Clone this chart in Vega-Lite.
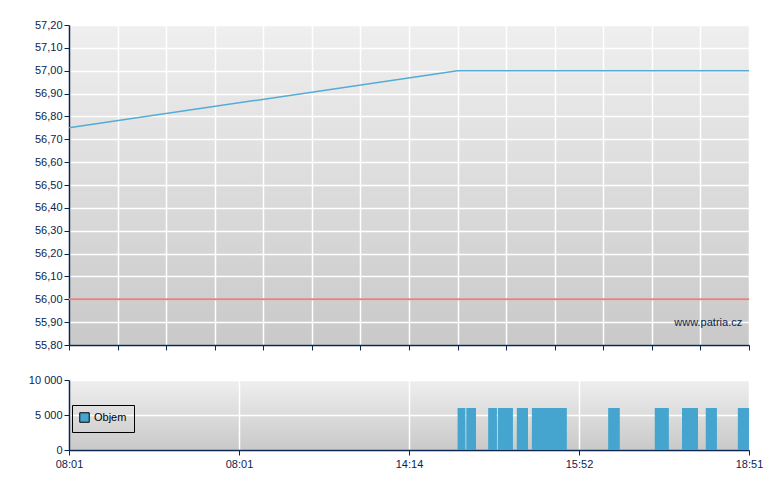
{
  "$schema": "https://vega.github.io/schema/vega-lite/v6.json",
  "background": "white",
  "padding": {"left": 28, "top": 19, "right": 30, "bottom": 10},
  "bounds": "flush",
  "spacing": 35,
  "config": {
    "font": "Liberation Sans",
    "view": {
      "stroke": null,
      "fill": {"gradient": "linear", "x1": 0, "y1": 0, "x2": 0, "y2": 1,
        "stops": [{"offset": 0, "color": "#efefef"}, {"offset": 1, "color": "#c9c9c9"}]}
    },
    "axis": {
      "domainColor": "#0b2550", "domainWidth": 1.5, "tickColor": "#0b2550", "tickSize": 5,
      "labelColor": "#0b2550", "labelFont": "Liberation Sans", "labelFontSize": 11,
      "labelOverlap": false,
      "gridColor": "#ffffff", "gridWidth": 1.5, "gridOpacity": 1, "title": null
    }
  },
  "datasets": {
    "price": [
      {"t": 0, "price": 56.75},
      {"t": 80, "price": 57.0},
      {"t": 140, "price": 57.0}
    ],
    "ref": [{"price": 56.0}],
    "wm": [{"t": 138.6, "price": 55.896, "label": "www.patria.cz"}],
    "vol": [
      {"start": 80.0, "end": 81.6, "vol": 6000, "series": "Objem"},
      {"start": 81.8, "end": 83.8, "vol": 6000, "series": "Objem"},
      {"start": 86.3, "end": 88.1, "vol": 6000, "series": "Objem"},
      {"start": 88.3, "end": 91.4, "vol": 6000, "series": "Objem"},
      {"start": 92.2, "end": 94.5, "vol": 6000, "series": "Objem"},
      {"start": 95.3, "end": 102.5, "vol": 6000, "series": "Objem"},
      {"start": 111.0, "end": 113.4, "vol": 6000, "series": "Objem"},
      {"start": 120.6, "end": 123.5, "vol": 6000, "series": "Objem"},
      {"start": 126.2, "end": 129.5, "vol": 6000, "series": "Objem"},
      {"start": 131.1, "end": 133.4, "vol": 6000, "series": "Objem"},
      {"start": 137.7, "end": 140.0, "vol": 6000, "series": "Objem"}
    ]
  },
  "vconcat": [
    {
      "width": 680,
      "height": 320,
      "encoding": {
        "x": {"field": "t", "type": "quantitative",
          "scale": {"domain": [0, 140], "nice": false, "zero": false},
          "axis": {"values": [0,10,20,30,40,50,60,70,80,90,100,110,120,130,140], "labels": false, "grid": true}},
        "y": {"field": "price", "type": "quantitative",
          "scale": {"domain": [55.8, 57.2], "nice": false, "zero": false},
          "axis": {"values": [55.8,55.9,56.0,56.1,56.2,56.3,56.4,56.5,56.6,56.7,56.8,56.9,57.0,57.1,57.2],
            "tickCount": 15, "labelOverlap": false, "labelFlush": false,
            "labelExpr": "replace(format(datum.value, '.2f'), '.', ',')", "grid": true}}
      },
      "layer": [
        {
          "data": {"name": "ref"},
          "mark": {"type": "rule", "color": "#e08585", "strokeWidth": 2},
          "encoding": {"x": null}
        },
        {
          "data": {"name": "price"},
          "mark": {"type": "line", "color": "#52acd4", "strokeWidth": 1.5}
        },
        {
          "data": {"name": "wm"},
          "mark": {"type": "text", "align": "right", "baseline": "middle", "fontSize": 11, "color": "#0b2550"},
          "encoding": {"text": {"field": "label"}}
        }
      ]
    },
    {
      "width": 680,
      "height": 70,
      "data": {"name": "vol"},
      "mark": {"type": "rect", "color": "#46a5cf"},
      "encoding": {
        "x": {"field": "start", "type": "quantitative",
          "scale": {"domain": [0, 140], "nice": false, "zero": false},
          "axis": {"values": [0, 35, 70, 105, 140], "grid": true, "labelPadding": 3, "labelOverlap": false, "labelFlush": false,
            "labelExpr": "['08:01','08:01','14:14','15:52','18:51'][round(datum.value/35)]"}},
        "x2": {"field": "end"},
        "y": {"field": "vol", "type": "quantitative",
          "scale": {"domain": [0, 10000], "nice": false},
          "axis": {"values": [0, 5000, 10000], "labelOverlap": false, "labelFlush": false, "labelExpr": "replace(format(datum.value, ','), ',', ' ')", "grid": true}},
        "y2": {"datum": 0},
        "color": {"field": "series", "type": "nominal",
          "scale": {"range": ["#46a5cf"]},
          "legend": {"title": null, "orient": "none", "legendX": 3, "legendY": 380,
            "strokeColor": "#000000", "padding": 7, "symbolType": "square", "symbolSize": 90,
            "symbolStrokeColor": "#000000", "symbolStrokeWidth": 1, "symbolOpacity": 1,
            "labelFontSize": 11, "labelColor": "#000000", "labelFont": "Liberation Sans"}}
      }
    }
  ]
}
